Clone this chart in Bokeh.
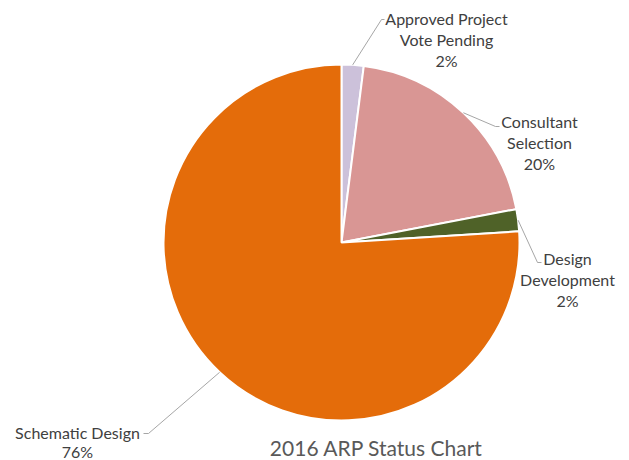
import math
from bokeh.plotting import figure
from bokeh.models import Range1d, ColumnDataSource
from bokeh.core.properties import value
from bokeh.embed import file_html
from bokeh.resources import INLINE

# ---- data ----
categories = ["Approved Project Vote Pending", "Consultant Selection", "Design Development", "Schematic Design"]
label_lines = [["Approved Project", "Vote Pending"], ["Consultant", "Selection"], ["Design", "Development"], ["Schematic Design"]]
percents = [2, 20, 2, 76]
colors = ["#CCC1DA", "#D99694", "#4F6228", "#E46C0A"]
title_text = "2016 ARP Status Chart"

# ---- layout (pixels, top-left origin) ----
W, H = 629, 460
CX, CY, R = 341, 242, 178
# elbow point of leader line, end of horizontal segment, label centre x, first line y
elbows = [(381, 19), (495, 126), (537, 262), (148, 433)]
ends = [(384, 19), (499, 126), (541, 262), (143, 433)]
label_cx = [446, 539, 567, 77]
label_y0 = [18, 121, 258, 432]
line_h = [21, 21, 21, 19]

def Y(y):
    return H - y

p = figure(width=W, height=H, output_backend="svg", toolbar_location=None,
           x_range=Range1d(0, W), y_range=Range1d(0, H), min_border=0)
p.axis.visible = False
p.grid.visible = False
p.outline_line_color = None
p.background_fill_color = "white"

total = sum(percents)
starts, ends_a, mids = [], [], []
cum = 0
for v in percents:
    a0 = math.pi / 2 - 2 * math.pi * cum / total
    cum += v
    a1 = math.pi / 2 - 2 * math.pi * cum / total
    starts.append(a0)
    ends_a.append(a1)
    mids.append((a0 + a1) / 2)

src = ColumnDataSource(dict(x=[CX] * 4, y=[Y(CY)] * 4, s=starts, e=ends_a, c=colors))
p.wedge(x="x", y="y", radius=R, start_angle="s", end_angle="e", direction="clock",
        fill_color="c", line_color="white", line_width=2, source=src)

# leader lines
xs, ys = [], []
for m, el, en in zip(mids, elbows, ends):
    px = CX + R * math.cos(m)
    py = Y(CY) + R * math.sin(m)
    xs.append([px, el[0], en[0]])
    ys.append([py, Y(el[1]), Y(en[1])])
p.multi_line(xs=xs, ys=ys, line_color="#A6A6A6", line_width=1)

# labels
tx, ty, tt = [], [], []
for lines, cx, y0, lh, pct in zip(label_lines, label_cx, label_y0, line_h, percents):
    all_lines = lines + [f"{pct}%"]
    for i, t in enumerate(all_lines):
        tx.append(cx)
        ty.append(Y(y0 + i * lh))
        tt.append(t)
p.text(x=tx, y=ty, text=tt, text_align="center", text_baseline="middle",
       text_font=value("Lato"), text_font_size="16px", text_color="#404040")

p.text(x=[376], y=[Y(447)], text=[title_text], text_align="center", text_baseline="middle",
       text_font=value("Lato"), text_font_size="21px", text_color="#595959")

open("out.html", "w").write(file_html(p, INLINE))
